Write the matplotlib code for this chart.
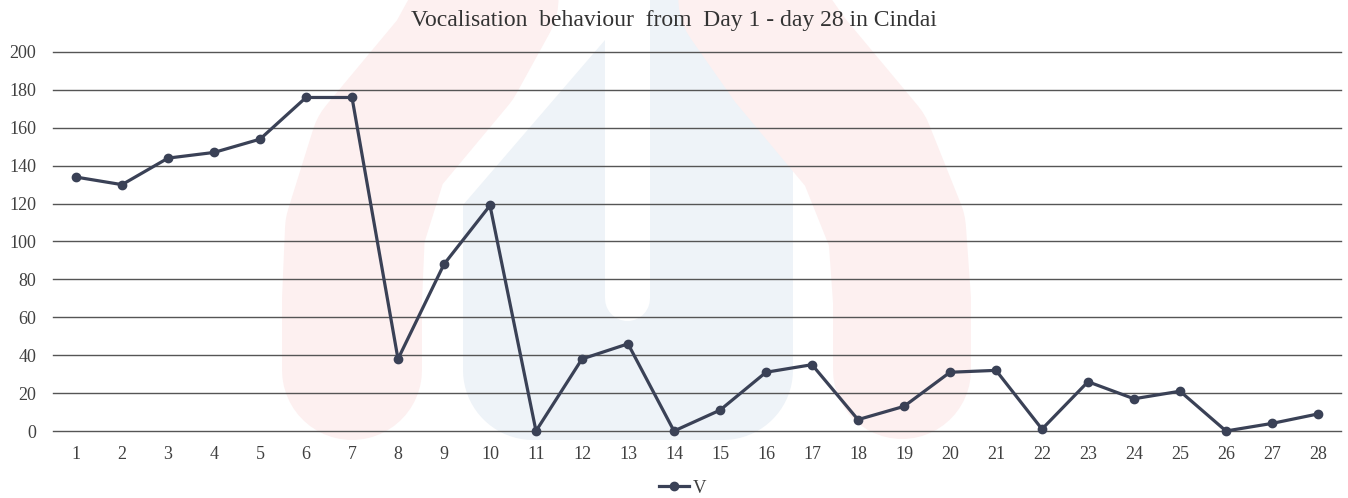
import matplotlib
matplotlib.use("Agg")
import matplotlib.pyplot as plt
import numpy as np

days = list(range(1, 29))
values = [134, 130, 144, 147, 154, 176, 176, 38, 88, 119, 0, 38, 46, 0, 11, 31, 35,
          6, 13, 31, 32, 1, 26, 17, 21, 0, 4, 9]
y_ticks = [0, 20, 40, 60, 80, 100, 120, 140, 160, 180, 200]
title = "Vocalisation  behaviour  from  Day 1 - day 28 in Cindai"
series_name = "V"

plt.rcParams['font.family'] = ['Liberation Serif', 'DejaVu Serif']

W, H = 1348, 498
fig = plt.figure(figsize=(W / 100, H / 100), dpi=100)

# faint watermark background (decoration)
bg = fig.add_axes([0, 0, 1, 1], zorder=0)
bg.set_xlim(0, W)
bg.set_ylim(H, 0)
bg.axis('off')
blue = '#eef3f8'
red = '#fdf0f0'
px2pt = 72 / 100
r = 70
poly = [(463, 205), (605, 40), (605, 0), (793, 0), (793, 370)] + \
       [(793 - r + r * np.cos(t), 370 + r * np.sin(t)) for t in np.linspace(0, np.pi / 2, 20)] + \
       [(463 + r + r * np.cos(t), 370 + r * np.sin(t)) for t in np.linspace(np.pi / 2, np.pi, 20)]
bg.add_patch(plt.Polygon(poly, closed=True, facecolor=blue, edgecolor='none'))
bg.plot([627, 627], [-30, 298], color='white', lw=45 * px2pt, solid_capstyle='round')
lx = [510, 455, 380, 355, 352, 352]
ly = [-40, 60, 150, 230, 300, 370]
bg.plot(lx, ly, color=red, lw=140 * px2pt, solid_capstyle='round', solid_joinstyle='round')
rx = [720, 790, 865, 897, 902, 902]
ry = [-40, 60, 150, 230, 300, 370]
bg.plot(rx, ry, color=red, lw=138 * px2pt, solid_capstyle='round', solid_joinstyle='round')

ax = fig.add_axes([53 / W, (H - 431) / H, (1341 - 53) / W, (431 - 52) / H], zorder=1)
ax.patch.set_alpha(0)
line_color = '#3a4156'
ax.plot(days, values, color=line_color, lw=2.3, marker='o', markersize=6,
        label=series_name, zorder=3, clip_on=False)
ax.set_xlim(0.5, 28.5)
ax.set_ylim(0, 200)
ax.set_yticks(y_ticks)
ax.set_xticks(days)
ax.grid(axis='y', color='#555555', lw=1.0)
for gl in ax.get_ygridlines():
    gl.set_clip_on(False)
ax.set_axisbelow(True)
for s in ax.spines.values():
    s.set_visible(False)
ax.tick_params(axis='both', length=0, labelsize=13, labelcolor='#404040')
ax.tick_params(axis='x', pad=11)
ax.tick_params(axis='y', pad=12)

fig.text(0.5, 1 - 20 / H, title, ha='center', va='center', fontsize=17, color='#333333')

handles, labels = ax.get_legend_handles_labels()
fig.legend(handles, labels, loc='center', bbox_to_anchor=(683 / W, 1 - 488 / H),
           frameon=False, fontsize=13.5, handlelength=1.6, handletextpad=0.2,
           labelcolor='#404040')

fig.savefig('out.png', dpi=100)
